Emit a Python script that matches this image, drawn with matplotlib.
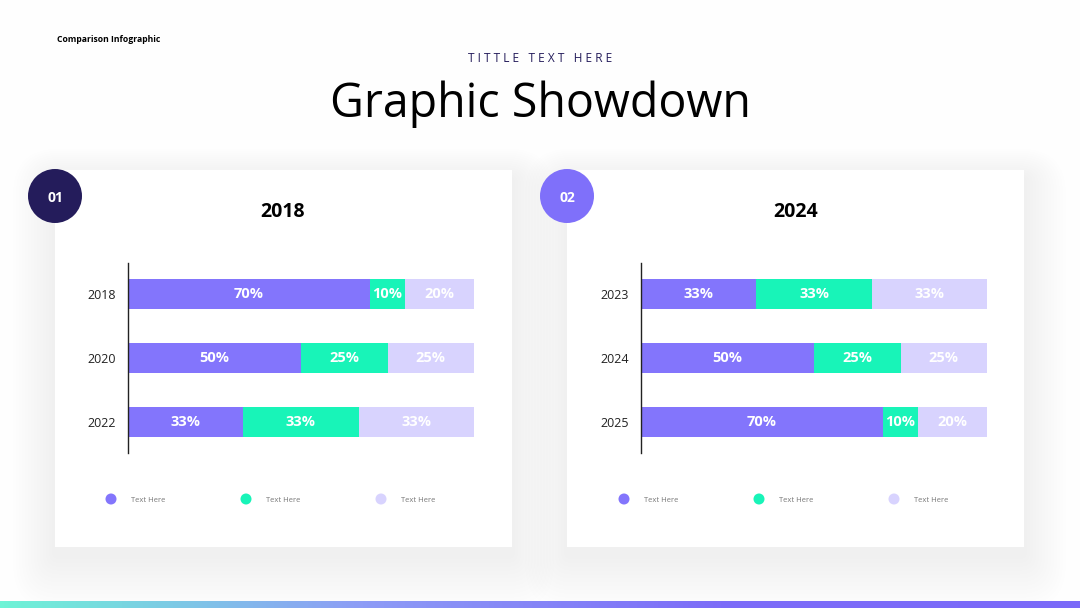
import numpy as np
import matplotlib.pyplot as plt
from matplotlib.patches import Rectangle, Circle, FancyBboxPatch
from matplotlib.colors import LinearSegmentedColormap

# data
left_years = ['2018', '2020', '2022']
left_a = [70, 50, 33]
left_b = [10, 25, 33]
left_c = [20, 25, 33]

right_years = ['2023', '2024', '2025']
right_a = [33, 50, 70]
right_b = [33, 25, 10]
right_c = [33, 25, 20]

legend_labels = ['Text Here', 'Text Here', 'Text Here']
colors = ['#8375fc', '#18f4b8', '#d8d3fe']

W, H = 1080, 608
fig = plt.figure(figsize=(10.8, 6.08), dpi=100)
fig.patch.set_facecolor('#fefefe')

bg = fig.add_axes([0, 0, 1, 1])
bg.set_xlim(0, W)
bg.set_ylim(H, 0)
bg.axis('off')

# soft shadows + white panels
for x0 in [55, 567]:
    for i in range(14):
        pad = 42 - i * 3
        bg.add_patch(FancyBboxPatch((x0 - pad, 170 - pad * 0.7 + 8), 457 + 2 * pad, 377 + 2 * pad,
                                    boxstyle='round,pad=0,rounding_size=%d' % (pad + 4),
                                    fc='#000000', ec='none', alpha=0.0038, zorder=1))
    bg.add_patch(Rectangle((x0, 170), 457, 377, fc='white', ec='none', zorder=2))

# number badges
bg.add_patch(Circle((55, 196), 27, fc='#241c5b', ec='none', zorder=3))
bg.text(55, 198, '01', color='white', fontsize=10, fontweight='bold', ha='center', va='center',
        family='Open Sans', zorder=4)
bg.add_patch(Circle((567, 196), 27, fc='#7f70fa', ec='none', zorder=3))
bg.text(567, 198, '02', color='white', fontsize=10, fontweight='bold', ha='center', va='center',
        family='Open Sans', zorder=4)

# headings
bg.text(57, 40, 'Comparison Infographic', fontsize=6.2, fontweight='bold', ha='left', va='center',
        family='Open Sans')
bg.text(540, 59, 'T I T T L E   T E X T   H E R E', fontsize=8.6, color='#241c5b', ha='center', va='center',
        family='Open Sans')
bg.text(540, 104, 'Graphic Showdown', fontsize=33.5, ha='center', va='center', family='Open Sans')
bg.text(283, 212, '2018', fontsize=14, fontweight='bold', ha='center', va='center', family='Open Sans')
bg.text(796, 212, '2024', fontsize=14, fontweight='bold', ha='center', va='center', family='Open Sans')

# bottom gradient strip
grad = np.linspace(0, 1, 256).reshape(1, -1)
cmap = LinearSegmentedColormap.from_list('strip', ['#6ef4d6', '#8d9cf6', '#7c6cf8', '#7a69f8'])
bg.imshow(grad, cmap=cmap, aspect='auto', extent=[0, W, H, 601], zorder=5)
bg.set_xlim(0, W)
bg.set_ylim(H, 0)


def draw_panel(x0, years, a, b, c, legend_x):
    ax = fig.add_axes([x0 / W, 1 - 453 / H, 346 / W, 190 / H])
    ax.set_facecolor('none')
    y = np.arange(len(years))
    totals = np.array(a) + np.array(b) + np.array(c)
    lefts = np.zeros(len(years))
    for vals, col in zip([a, b, c], colors):
        widths = np.array(vals) / totals * 100
        bars = ax.barh(y, widths, left=lefts, height=0.47, color=col)
        ax.bar_label(bars, labels=['%d%%' % v for v in vals], label_type='center',
                     color='white', fontsize=10.5, fontweight='bold', family='Open Sans')
        lefts += widths
    ax.set_xlim(0, 100)
    ax.set_ylim(2.484, -0.484)
    ax.set_yticks(y)
    ax.set_yticklabels(years, fontsize=9, family='Open Sans', color='#222222')
    ax.tick_params(axis='y', length=0, pad=8.5)
    ax.set_xticks([])
    for s in ['top', 'right', 'bottom']:
        ax.spines[s].set_visible(False)
    ax.spines['left'].set_color('#222222')
    ax.spines['left'].set_linewidth(1)

    for lx, col, lab in zip(legend_x, colors, legend_labels):
        bg.add_patch(Circle((lx, 499), 5.5, fc=col, ec='none', zorder=4))
        bg.text(lx + 20, 501, lab, fontsize=5.5, color='#777777', ha='left', va='center',
                family='Open Sans', zorder=4)


draw_panel(128, left_years, left_a, left_b, left_c, [111, 246, 381])
draw_panel(641, right_years, right_a, right_b, right_c, [624, 759, 894])

fig.savefig('out.png', dpi=100, facecolor=fig.get_facecolor())
